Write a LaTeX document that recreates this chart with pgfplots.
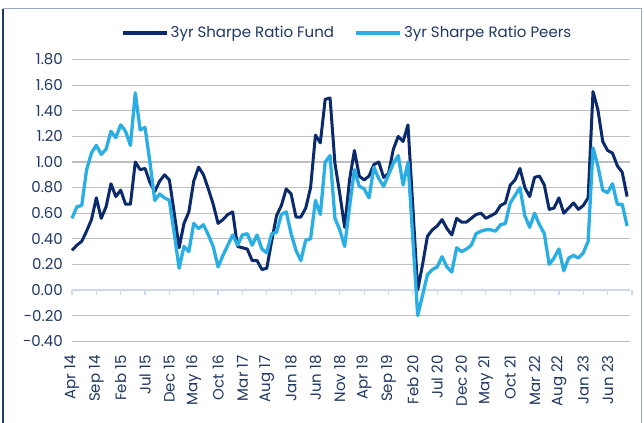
\documentclass[border=0pt]{standalone}
\usepackage{pgfplots}
\usepackage{pgfplotstable}
\pgfplotsset{compat=1.18}
\usepackage{fontspec}
\setmainfont{Poppins}
\definecolor{fundc}{HTML}{0B2A6B}
\definecolor{peerc}{HTML}{2AAEE4}
\definecolor{txtc}{HTML}{1F3864}
\definecolor{gridc}{HTML}{BFBFBF}
\definecolor{zeroc}{HTML}{CCDAF0}
\definecolor{framec}{HTML}{9AA8C0}
\pgfplotstableread{
i f p
0 0.31 0.56
1 0.35 0.65
2 0.38 0.66
3 0.46 0.94
4 0.55 1.07
5 0.72 1.13
6 0.56 1.06
7 0.65 1.10
8 0.83 1.24
9 0.73 1.19
10 0.78 1.29
11 0.67 1.24
12 0.67 1.13
13 1.00 1.54
14 0.94 1.25
15 0.95 1.27
16 0.84 1.00
17 0.77 0.70
18 0.85 0.75
19 0.90 0.72
20 0.86 0.70
21 0.60 0.44
22 0.33 0.17
23 0.52 0.34
24 0.61 0.30
25 0.85 0.52
26 0.96 0.48
27 0.90 0.51
28 0.79 0.43
29 0.67 0.34
30 0.52 0.18
31 0.55 0.27
32 0.59 0.35
33 0.61 0.43
34 0.34 0.35
35 0.33 0.43
36 0.32 0.44
37 0.23 0.35
38 0.23 0.43
39 0.16 0.32
40 0.17 0.29
41 0.38 0.44
42 0.58 0.45
43 0.66 0.59
44 0.79 0.61
45 0.75 0.44
46 0.57 0.31
47 0.57 0.23
48 0.64 0.39
49 0.80 0.40
50 1.21 0.70
51 1.15 0.59
52 1.49 1.00
53 1.50 1.05
54 0.99 0.56
55 0.75 0.47
56 0.49 0.34
57 0.86 0.65
58 1.09 0.94
59 0.89 0.81
60 0.86 0.79
61 0.89 0.72
62 0.98 0.96
63 1.00 0.87
64 0.88 0.81
65 0.91 0.90
66 1.10 0.99
67 1.20 1.05
68 1.16 0.82
69 1.29 1.00
70 0.65 0.40
71 0.00 -0.20
72 0.20 -0.04
73 0.42 0.12
74 0.47 0.16
75 0.50 0.18
76 0.55 0.26
77 0.48 0.18
78 0.43 0.14
79 0.56 0.33
80 0.53 0.30
81 0.53 0.32
82 0.56 0.35
83 0.59 0.44
84 0.60 0.46
85 0.56 0.47
86 0.58 0.47
87 0.60 0.46
88 0.66 0.51
89 0.68 0.52
90 0.82 0.68
91 0.86 0.74
92 0.95 0.80
93 0.80 0.58
94 0.73 0.49
95 0.88 0.60
96 0.89 0.51
97 0.82 0.44
98 0.63 0.20
99 0.64 0.25
100 0.72 0.32
101 0.60 0.15
102 0.64 0.25
103 0.68 0.27
104 0.63 0.25
105 0.66 0.29
106 0.72 0.38
107 1.55 1.11
108 1.41 0.97
109 1.16 0.78
110 1.09 0.76
111 1.07 0.83
112 0.97 0.67
113 0.92 0.67
114 0.73 0.50
}\sharpe
\begin{document}
\begin{tikzpicture}
\useasboundingbox (0,0) rectangle (644bp,423bp);
\fill[white] (0,0) rectangle (644bp,423bp);
\draw[color=framec, line width=1bp] (3bp,414bp) -- (641bp,414bp) -- (641bp,-2bp);
\draw[color=txtc, line width=1.2bp] (3bp,-2bp) -- (3bp,414bp);
\begin{axis}[
  at={(72bp,81.8bp)}, anchor=south west,
  scale only axis, width=558bp, height=281.6bp,
  xmin=0, xmax=114.6, ymin=-0.4, ymax=1.8,
  clip=false,
  axis line style={draw=none},
  major tick length=0pt,
  ytick={-0.4,-0.2,0,0.2,0.4,0.6,0.8,1.0,1.2,1.4,1.6,1.8},
  yticklabels={-0.40,-0.20,0.00,0.20,0.40,0.60,0.80,1.00,1.20,1.40,1.60,1.80},
  xtick={0,5,...,110},
  xticklabels={Apr 14,Sep 14,Feb 15,Jul 15,Dec 15,May 16,Oct 16,Mar 17,Aug 17,Jan 18,Jun 18,Nov 18,Apr 19,Sep 19,Feb 20,Jul 20,Dec 20,May 21,Oct 21,Mar 22,Aug 22,Jan 23,Jun 23},
  ymajorgrids, grid style={gridc, line width=1.1bp},
  tick label style={font=\fontsize{15bp}{18bp}\selectfont, text=txtc},
  xticklabel style={rotate=90, anchor=east, inner sep=0pt},
  xticklabel shift=14bp,
  yticklabel style={anchor=east, inner sep=0pt},
  yticklabel shift=9bp,
  legend columns=2,
  legend style={at={(0.5,1)}, anchor=center, yshift=27bp, xshift=-4bp, draw=none, fill=none,
    font=\fontsize{15bp}{18bp}\selectfont, text=txtc,
    /tikz/every even column/.append style={column sep=18bp}},
  legend image code/.code={\draw[#1, line width=4bp] (0bp,0bp) -- (44bp,0bp);},
]
\draw[zeroc, line width=1.6bp] (axis cs:0,0) -- (axis cs:114.6,0);
\pgfplotsinvokeforeach{0,5,...,115}{\draw[zeroc, line width=1.2bp] (axis cs:#1,0) -- ([yshift=-5bp]axis cs:#1,0);}
\addplot[fundc, line width=3bp, line join=round] table[x=i, y=f] {\sharpe};
\addlegendentry{3yr Sharpe Ratio Fund}
\addplot[peerc, line width=3.3bp, line join=round] table[x=i, y=p] {\sharpe};
\addlegendentry{3yr Sharpe Ratio Peers}
\end{axis}
\end{tikzpicture}
\end{document}
